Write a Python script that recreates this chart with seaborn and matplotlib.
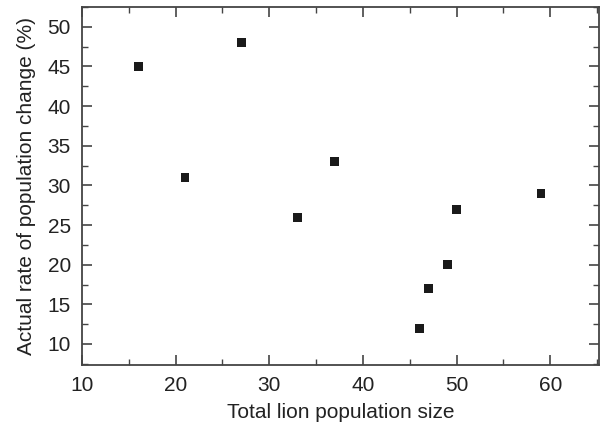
import matplotlib
matplotlib.use("Agg")
import matplotlib.pyplot as plt
import seaborn as sns
import pandas as pd
from matplotlib.ticker import MultipleLocator

# Data
pop_size = [16, 21, 27, 33, 37, 46, 47, 49, 50, 59]
rate_change = [45, 31, 48, 26, 33, 12, 17, 20, 27, 29]

df = pd.DataFrame({"size": pop_size, "rate": rate_change})

sns.set_style("ticks")
plt.rcParams['font.family'] = ['Liberation Sans', 'DejaVu Sans']

fig = plt.figure(figsize=(6.01, 4.22), dpi=100)
ax = fig.add_axes([82 / 601, 1 - 365 / 422, (599 - 82) / 601, (365 - 7) / 422])

sns.scatterplot(data=df, x="size", y="rate", marker="s", s=40,
                color="#1a1a1a", edgecolor="none", ax=ax)

ax.set_xlim(10, 65.2)
ax.set_ylim(7.35, 52.5)
ax.xaxis.set_major_locator(MultipleLocator(10))
ax.xaxis.set_minor_locator(MultipleLocator(5))
ax.yaxis.set_major_locator(MultipleLocator(5))
ax.yaxis.set_minor_locator(MultipleLocator(2.5))

ax.tick_params(which="both", direction="in", top=True, right=True,
               color="#444444", labelsize=15, labelcolor="#222222")
ax.tick_params(which="major", length=7, width=1.2)
ax.tick_params(which="minor", length=4, width=1.0)
ax.tick_params(axis="x", which="major", pad=8)
ax.tick_params(axis="y", which="major", pad=8)
for sp in ax.spines.values():
    sp.set_color("#444444")
    sp.set_linewidth(1.3)

ax.set_xlabel("Total lion population size", fontsize=15, color="#222222", labelpad=6)
ax.set_ylabel("Actual rate of population change (%)", fontsize=15, color="#222222", labelpad=8)

fig.savefig("out.png", dpi=100)
